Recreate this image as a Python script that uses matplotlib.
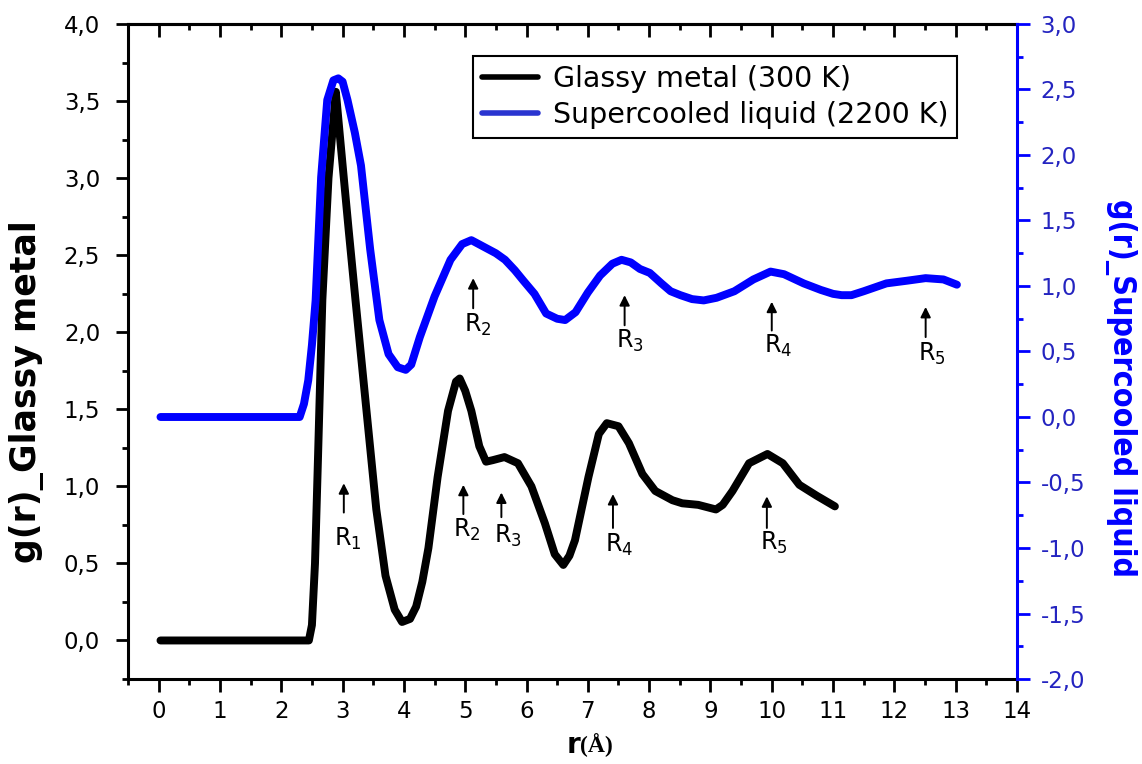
import matplotlib
matplotlib.use("Agg")
import matplotlib.pyplot as plt
from matplotlib.ticker import MultipleLocator, FuncFormatter

# ---------------- data ----------------
glassy_r = [0.03, 2.45, 2.50, 2.55, 2.60, 2.67, 2.77, 2.89, 2.95, 3.02, 3.10, 3.21,
            3.30, 3.40, 3.55, 3.70, 3.85, 3.97, 4.10, 4.20, 4.30, 4.40, 4.55, 4.72,
            4.85, 4.91, 5.00, 5.10, 5.23, 5.34, 5.45, 5.64, 5.86, 6.08, 6.30, 6.46,
            6.60, 6.70, 6.79, 7.01, 7.18, 7.31, 7.50, 7.67, 7.89, 8.10, 8.38, 8.54,
            8.80, 9.09, 9.20, 9.36, 9.63, 9.93, 10.18, 10.45, 10.73, 11.03]
glassy_g = [0.00, 0.00, 0.10, 0.50, 1.20, 2.21, 3.00, 3.56, 3.30, 3.00, 2.66, 2.21,
            1.85, 1.45, 0.85, 0.42, 0.20, 0.12, 0.14, 0.22, 0.38, 0.60, 1.06, 1.49,
            1.68, 1.70, 1.62, 1.49, 1.26, 1.16, 1.17, 1.19, 1.15, 1.00, 0.76, 0.56,
            0.49, 0.55, 0.65, 1.06, 1.34, 1.41, 1.39, 1.28, 1.08, 0.97, 0.91, 0.89,
            0.88, 0.85, 0.88, 0.97, 1.15, 1.21, 1.15, 1.01, 0.94, 0.87]

liquid_r = [0.03, 2.30, 2.37, 2.44, 2.50, 2.56, 2.65, 2.75, 2.85, 2.93, 3.00, 3.08,
            3.20, 3.30, 3.45, 3.60, 3.75, 3.90, 4.03, 4.12, 4.26, 4.50, 4.76, 4.95,
            5.10, 5.30, 5.50, 5.65, 5.81, 5.95, 6.13, 6.32, 6.50, 6.63, 6.80, 7.00,
            7.20, 7.40, 7.55, 7.70, 7.85, 8.01, 8.20, 8.35, 8.51, 8.70, 8.89, 9.10,
            9.39, 9.70, 9.98, 10.20, 10.52, 10.80, 11.00, 11.14, 11.30, 11.50, 11.87,
            12.20, 12.51, 12.80, 13.02]
liquid_g = [0.00, 0.00, 0.10, 0.28, 0.55, 0.89, 1.83, 2.42, 2.57, 2.585, 2.56, 2.42,
            2.17, 1.92, 1.28, 0.74, 0.48, 0.38, 0.36, 0.40, 0.61, 0.92, 1.20, 1.32,
            1.35, 1.30, 1.25, 1.20, 1.12, 1.04, 0.94, 0.79, 0.75, 0.74, 0.80, 0.95,
            1.08, 1.17, 1.20, 1.18, 1.13, 1.10, 1.02, 0.96, 0.93, 0.90, 0.89, 0.91,
            0.96, 1.05, 1.11, 1.09, 1.02, 0.97, 0.94, 0.93, 0.93, 0.96, 1.02,
            1.04, 1.06, 1.05, 1.01]

x_ticks = list(range(0, 15))
left_ticks = [0.0, 0.5, 1.0, 1.5, 2.0, 2.5, 3.0, 3.5, 4.0]
right_ticks = [-2.0, -1.5, -1.0, -0.5, 0.0, 0.5, 1.0, 1.5, 2.0, 2.5, 3.0]

legend_labels = ["Glassy metal (300 K)", "Supercooled liquid (2200 K)"]

# peak markers (annotation placement)
glassy_marks = ["1", "2", "3", "4", "5"]
glassy_mark_x = [3.02, 4.97, 5.59, 7.41, 9.92]
glassy_mark_tip = [1.02, 1.01, 0.96, 0.95, 0.935]
glassy_mark_tail = [0.83, 0.82, 0.80, 0.73, 0.73]
glassy_label_xy = [(3.08, 0.66), (5.02, 0.72), (5.70, 0.68), (7.51, 0.62), (10.03, 0.63)]

liquid_marks = ["2", "3", "4", "5"]
liquid_mark_x = [5.13, 7.60, 10.00, 12.51]
liquid_mark_tip = [1.06, 0.93, 0.88, 0.84]
liquid_mark_tail = [0.83, 0.70, 0.66, 0.61]
liquid_label_xy = [(5.20, 0.70), (7.68, 0.58), (10.10, 0.54), (12.61, 0.48)]

# ---------------- figure ----------------
plt.rcParams['font.family'] = ['DejaVu Sans']
W, H = 1142, 764
fig = plt.figure(figsize=(W / 100, H / 100), dpi=100)
ax = fig.add_axes([128 / W, 1 - 679 / H, (1017 - 128) / W, (679 - 24) / H])
ax2 = ax.twinx()

BLUE = '#0000ff'
TICKBLUE = '#2424c0'

l1, = ax.plot(glassy_r, glassy_g, color='black', lw=5.7,
              solid_joinstyle='round', solid_capstyle='round', zorder=3)
l2, = ax2.plot(liquid_r, liquid_g, color=BLUE, lw=5.7,
               solid_joinstyle='round', solid_capstyle='round', zorder=3)

ax.set_xlim(-0.5, 14)
ax.set_ylim(-0.25, 4.0)
ax2.set_ylim(-2.0, 3.0)

comma = FuncFormatter(lambda v, p: f"{v:.1f}".replace('.', ','))

ax.set_xticks(x_ticks)
ax.xaxis.set_minor_locator(MultipleLocator(0.5))
ax.set_yticks(left_ticks)
ax.yaxis.set_minor_locator(MultipleLocator(0.25))
ax.yaxis.set_major_formatter(comma)
ax2.set_yticks(right_ticks)
ax2.yaxis.set_minor_locator(MultipleLocator(0.25))
ax2.yaxis.set_major_formatter(comma)

for a in (ax, ax2):
    for s in a.spines.values():
        s.set_linewidth(2.2)
ax2.spines['right'].set_color(BLUE)
ax2.spines['left'].set_visible(False)
ax2.spines['top'].set_visible(False)
ax2.spines['bottom'].set_visible(False)
ax.spines['right'].set_visible(False)

TS = 16.5
ax.tick_params(axis='x', which='major', direction='out', length=9, width=2, labelsize=TS, pad=6)
ax.tick_params(axis='x', which='minor', direction='out', length=4.5, width=2)
ax.tick_params(axis='y', which='major', direction='out', length=9, width=2, labelsize=TS, pad=11)
ax.tick_params(axis='y', which='minor', direction='out', length=4.5, width=2)
ax2.tick_params(axis='y', which='major', direction='out', length=9, width=2, labelsize=TS,
                pad=8, color=BLUE, labelcolor=TICKBLUE)
ax2.tick_params(axis='y', which='minor', direction='out', length=4.5, width=2, color=BLUE)

# top axis with inward ticks
top = ax.secondary_xaxis('top')
top.set_xticks(x_ticks)
top.xaxis.set_minor_locator(MultipleLocator(0.5))
top.tick_params(axis='x', which='major', direction='in', length=9, width=2, labeltop=False)
top.tick_params(axis='x', which='minor', direction='in', length=4.5, width=2)
top.spines['top'].set_linewidth(2.2)

# axis labels
fig.text(27 / W, 1 - 392 / H, "g(r)_Glassy metal", rotation=90, fontsize=25,
         fontweight='bold', ha='center', va='center')
fig.text(1121 / W, 1 - 388 / H, "g(r)_Supercooled liquid", rotation=270, fontsize=23,
         fontweight='bold', fontstretch='condensed', color=BLUE, ha='center', va='center')
fig.text(580 / W, 1 - 745 / H, "r", fontsize=20, fontweight='bold', ha='right', va='center')
fig.text(580 / W, 1 - 745 / H, "(Å)", fontsize=17, fontweight='bold',
         family=['Liberation Serif'], ha='left', va='center')

# peak markers
arrow_kw = dict(arrowstyle='-|>', color='black', lw=1.4, mutation_scale=15,
                shrinkA=0, shrinkB=0)
for m, x, tip, tail, (lx, ly) in zip(glassy_marks, glassy_mark_x, glassy_mark_tip,
                                      glassy_mark_tail, glassy_label_xy):
    ax.annotate('', xy=(x, tip), xytext=(x, tail), arrowprops=arrow_kw)
    ax.text(lx, ly, f"R$_{m}$", fontsize=17, ha='center', va='center')
for m, x, tip, tail, (lx, ly) in zip(liquid_marks, liquid_mark_x, liquid_mark_tip,
                                      liquid_mark_tail, liquid_label_xy):
    ax2.annotate('', xy=(x, tip), xytext=(x, tail), arrowprops=arrow_kw)
    ax2.text(lx, ly, f"R$_{m}$", fontsize=17, ha='center', va='center')

leg = ax2.legend([l1, l2], legend_labels, loc='upper left',
                 bbox_to_anchor=(473 / W, 1 - 56 / H), bbox_transform=fig.transFigure,
                 borderaxespad=0, fontsize=20.5, frameon=True, fancybox=False,
                 framealpha=1, edgecolor='black', handlelength=2.0,
                 handletextpad=0.5, labelspacing=0.3, borderpad=0.3)
leg.get_frame().set_linewidth(1.5)
for ln in leg.get_lines():
    ln.set_linewidth(4)
leg.get_lines()[1].set_color('#2a35d0')

fig.savefig("out.png", dpi=100)
